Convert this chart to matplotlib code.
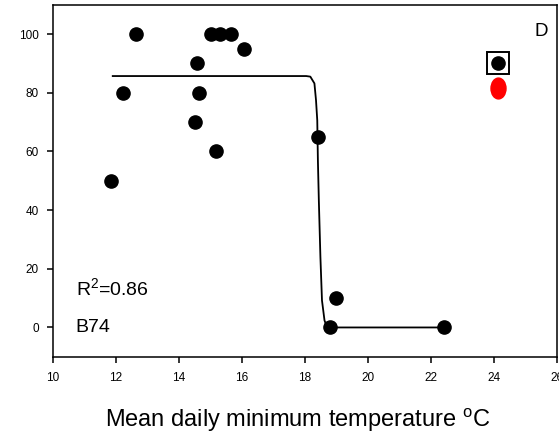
import numpy as np
import matplotlib
matplotlib.use('Agg')
import matplotlib.pyplot as plt
from matplotlib.path import Path
from matplotlib.transforms import Affine2D

plt.rcParams['font.family'] = ['Liberation Sans', 'DejaVu Sans']
plt.rcParams['mathtext.fontset'] = 'custom'
plt.rcParams['mathtext.rm'] = 'Liberation Sans'
plt.rcParams['mathtext.it'] = 'Liberation Sans'

# observed points
temp = [11.85, 12.22, 12.64, 14.52, 14.58, 14.65, 15.19, 15.02, 15.32, 15.66,
        16.09, 18.43, 18.8, 18.99, 22.43]
surv = [50, 80, 100, 70, 90, 80, 60, 100, 100, 100, 95, 65, 0, 10, 0]

# outlier (boxed) and its red counterpart
out_x = [24.15]
out_y = [90]
red_x = [24.12]
red_y = [81.5]

# fitted curve
fit_x = [11.91, 18.05, 18.18, 18.31, 18.36, 18.40, 18.42, 18.45, 18.50, 18.55,
         18.63, 18.71, 22.43]
fit_y = [85.7, 85.7, 85.5, 83.2, 77.5, 70.6, 57, 43.3, 24, 9.2, 2.4, 0, 0]

fig = plt.figure(figsize=(5.59, 4.33), dpi=100)
ax = fig.add_axes([0.094, 0.176, 0.902, 0.813])

ax.plot(fit_x, fit_y, '-', color='black', linewidth=1.3, zorder=2)
ax.plot(temp, surv, 'o', color='black', markersize=9.5, zorder=3)
ax.plot(out_x, out_y, 'o', color='black', markersize=9.5, zorder=3)
ax.plot(out_x, out_y, 's', markerfacecolor='none', markeredgecolor='black',
        markersize=16, markeredgewidth=1.4, zorder=3)

ell = Path.unit_circle().transformed(Affine2D().scale(0.72, 1.0))
ax.plot(red_x, red_y, linestyle='none', marker=ell, color='red',
        markersize=15, zorder=3)

ax.set_xlim(10, 26)
ax.set_ylim(-10, 110)
ax.set_xticks([10, 12, 14, 16, 18, 20, 22, 24, 26])
ax.set_yticks([0, 20, 40, 60, 80, 100])
ax.tick_params(direction='out', length=4, width=1.1, labelsize=8.5,
               top=False, right=False)
ax.tick_params(axis='x', pad=7)
ax.tick_params(axis='y', pad=6)
for s in ax.spines.values():
    s.set_linewidth(1.1)

ax.text(25.3, 99.3, 'D', fontsize=13.5)
ax.text(10.73, 11, 'R$^2$=0.86', fontsize=14)
ax.text(10.73, -1.6, 'B74', fontsize=14)

ax.set_xlabel('Mean daily minimum temperature $^{\\mathrm{o}}$C', fontsize=17)
ax.xaxis.set_label_coords(0.486, -0.143)
ax.xaxis.label.set_verticalalignment('top')

fig.savefig('out.png', dpi=100)
